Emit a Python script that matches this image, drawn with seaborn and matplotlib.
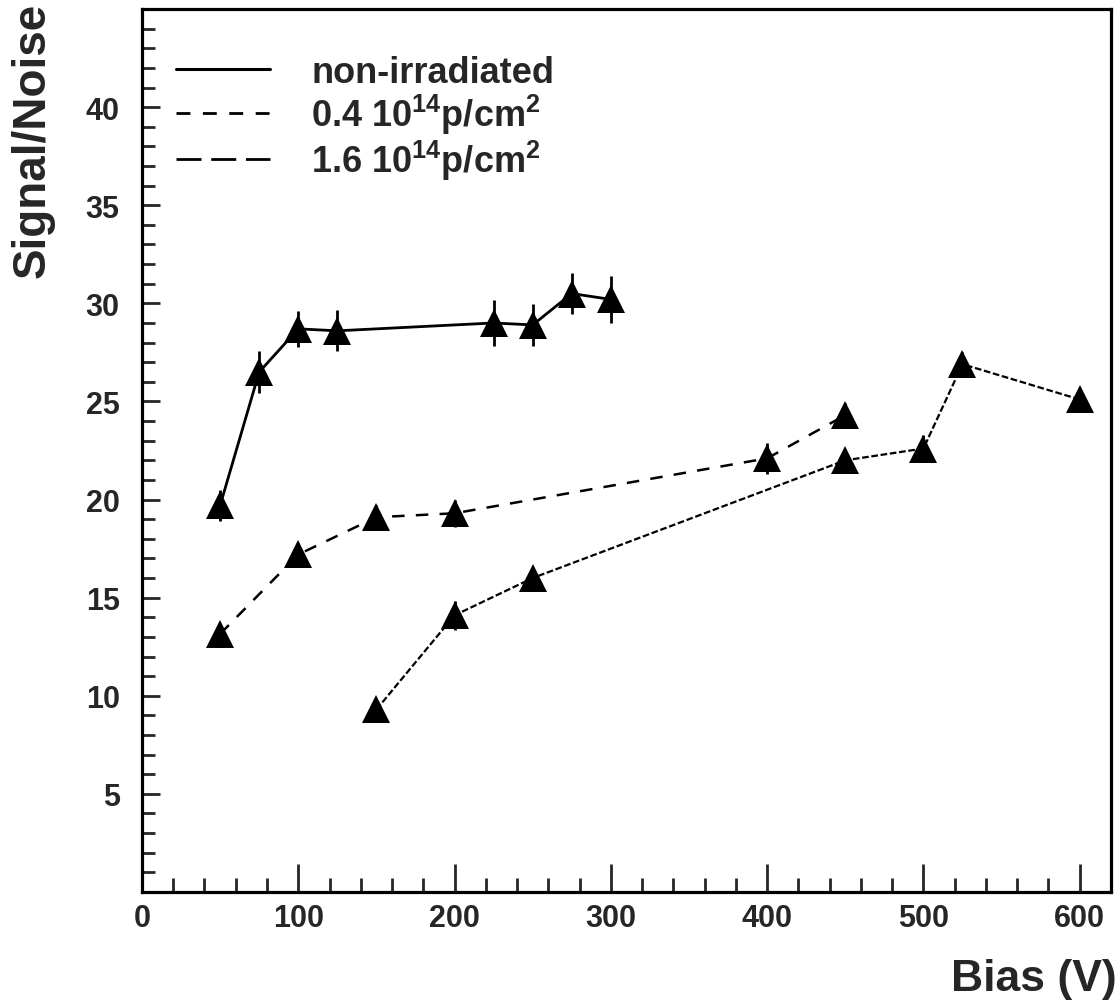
import matplotlib
matplotlib.use("Agg")
import matplotlib.pyplot as plt
from matplotlib.lines import Line2D
from matplotlib.ticker import MultipleLocator
import pandas as pd
import seaborn as sns

# Signal/Noise versus bias voltage for three irradiation levels
bias_nonirr = [50, 75, 100, 125, 225, 250, 275, 300]
sn_nonirr = [19.7, 26.5, 28.7, 28.6, 29.0, 28.9, 30.5, 30.2]
err_nonirr = [0.8, 1.05, 0.9, 1.05, 1.15, 1.05, 1.05, 1.2]

bias_04 = [50, 100, 150, 200, 400, 450]
sn_04 = [13.15, 17.2, 19.1, 19.3, 22.1, 24.3]
err_04 = [0.5, 0.6, 0.6, 0.7, 0.8, 0.6]

bias_16 = [150, 200, 250, 450, 500, 525, 600]
sn_16 = [9.3, 14.1, 16.0, 22.0, 22.6, 26.9, 25.1]
err_16 = [0.5, 0.75, 0.5, 0.6, 0.7, 0.6, 0.5]

labels = ["non-irradiated",
          r"0.4 10$^{14}$p/cm$^{2}$",
          r"1.6 10$^{14}$p/cm$^{2}$"]

sns.set_theme(style="white")
plt.rcParams["font.family"] = ["Liberation Sans", "DejaVu Sans"]
plt.rcParams["font.weight"] = "bold"
plt.rcParams["mathtext.fontset"] = "custom"
plt.rcParams["mathtext.rm"] = "Liberation Sans:bold"
plt.rcParams["mathtext.bf"] = "Liberation Sans:bold"
plt.rcParams["mathtext.default"] = "bf"

fig = plt.figure(figsize=(11.17, 10.04), dpi=100)
ax = fig.add_axes([0.1271, 0.1106, 0.8675, 0.8794])

styles = [
    dict(ls="-", lw=2.0),
    dict(ls=(0, (5, 4.5)), lw=1.8),
    dict(ls=(0, (3, 1.2)), lw=1.6),
]
series = [
    (bias_nonirr, sn_nonirr, err_nonirr),
    (bias_04, sn_04, err_04),
    (bias_16, sn_16, err_16),
]

for (x, y, e), st, lab in zip(series, styles, labels):
    df = pd.DataFrame({"Bias": x, "SN": y})
    sns.lineplot(data=df, x="Bias", y="SN", ax=ax, color="black",
                 linestyle=st["ls"], linewidth=st["lw"], marker="^",
                 markersize=20, markeredgewidth=0, markerfacecolor="black",
                 sort=False, errorbar=None, legend=False)
    ax.errorbar(x, y, yerr=e, fmt="none", ecolor="black", elinewidth=2.0,
                capsize=0, zorder=3)

ax.set_xlim(0, 620)
ax.set_ylim(0, 45)
ax.set_xlabel("")
ax.set_ylabel("")

ax.xaxis.set_major_locator(MultipleLocator(100))
ax.xaxis.set_minor_locator(MultipleLocator(20))
ax.yaxis.set_major_locator(MultipleLocator(5))
ax.yaxis.set_minor_locator(MultipleLocator(1))
ax.set_yticks([5, 10, 15, 20, 25, 30, 35, 40])

ax.tick_params(axis="x", which="major", direction="in", length=20, width=2.0,
               top=False, bottom=True, labelsize=22, pad=8)
ax.tick_params(axis="x", which="minor", direction="in", length=10, width=2.0,
               top=False, bottom=True)
ax.tick_params(axis="y", which="major", direction="in", length=13, width=2.0,
               left=True, right=False, labelsize=22, pad=16)
ax.tick_params(axis="y", which="minor", direction="in", length=9, width=2.0,
               left=True, right=False)
for lbl in ax.get_xticklabels() + ax.get_yticklabels():
    lbl.set_fontweight("bold")

for sp in ax.spines.values():
    sp.set_visible(True)
    sp.set_color("black")
    sp.set_linewidth(2.3)

handles = [Line2D([], [], color="black", ls="-", lw=2.2),
           Line2D([], [], color="black", ls=(0, (5, 4.5)), lw=2.0),
           Line2D([], [], color="black", ls=(0, (9, 3.5)), lw=2.0)]
ax.legend(handles, labels, loc="upper left", bbox_to_anchor=(0.035, 0.948),
          frameon=False, handlelength=2.6, handletextpad=1.15,
          labelspacing=0.05, borderpad=0, borderaxespad=0,
          prop={"weight": "bold", "size": 26})

fig.text(0.029, 0.997, "Signal/Noise", rotation=90, ha="center", va="top",
         fontsize=33, fontweight="bold")
fig.text(0.9995, 0.004, "Bias (V)", ha="right", va="bottom",
         fontsize=32, fontweight="bold")

fig.savefig("out.png", dpi=100, facecolor="white")
